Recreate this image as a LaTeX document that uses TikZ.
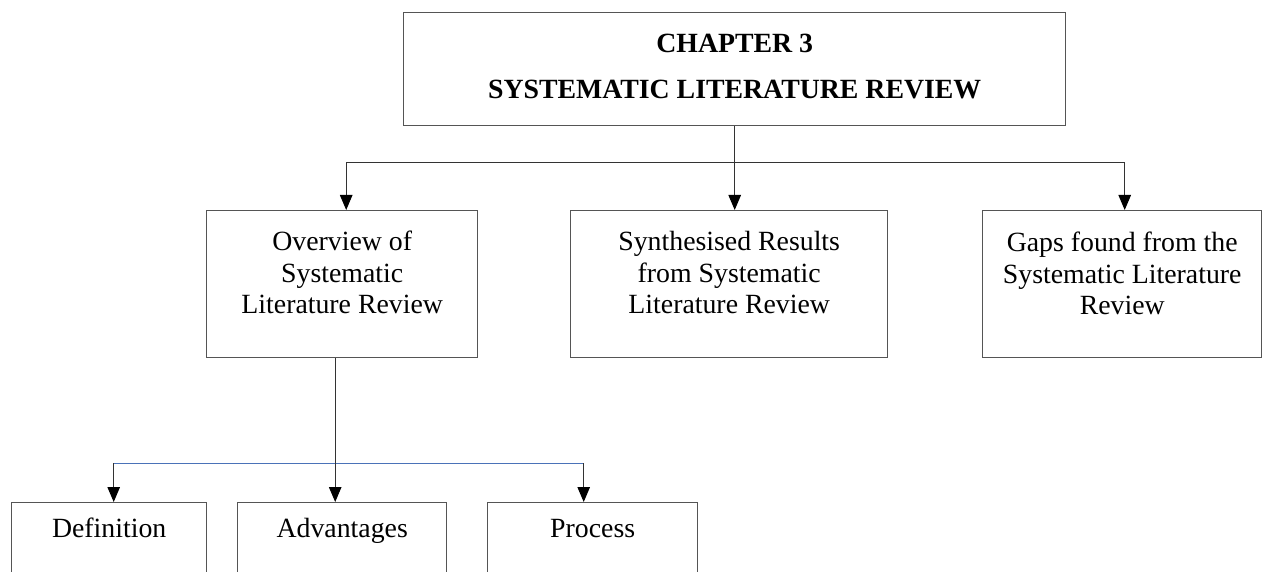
\documentclass[tikz,border=0pt]{standalone}
\usepackage{fontspec}
\setmainfont{Liberation Serif}
\usetikzlibrary{arrows.meta}
\definecolor{boxgray}{HTML}{555555}
\definecolor{linkblue}{HTML}{4A72B8}
\begin{document}
\begin{tikzpicture}[x=1pt,y=-1pt,
  box/.style={draw=boxgray, line width=1.4pt, inner sep=0pt, anchor=north west},
  lbl/.style={inner sep=0pt, anchor=south, text depth=0pt, align=center,
              font=\fontsize{27.8}{31.5}\selectfont},
  head/.style={inner sep=0pt, anchor=south, text depth=0pt, align=center,
              font=\fontsize{27.8}{46}\selectfont\bfseries},
  link/.style={draw=black!80, line width=1pt},
  arr/.style={link, -{Triangle[width=12.5pt,length=15pt,color=black]}}]

\useasboundingbox (0,0) rectangle (1263,572);
\clip (0,0) rectangle (1263,572);

% chapter box
\node[box, minimum width=662pt, minimum height=113pt] (top) at (403,12) {};
\node[head] (topt) at (top.center |- 0,99) {CHAPTER 3\\SYSTEMATIC LITERATURE REVIEW};

% second level
\node[box, minimum width=271pt, minimum height=147pt] (ov) at (206,210) {};
\node[box, minimum width=317pt, minimum height=147pt] (syn) at (570,210) {};
\node[box, minimum width=279pt, minimum height=147pt] (gap) at (982,210) {};
\node[lbl] (ovt) at (ov.center |- 0,314) {Overview of\\Systematic\\Literature Review};
\node[lbl] (synt) at (syn.center |- 0,314) {Synthesised Results\\from Systematic\\Literature Review};
\node[lbl] (gapt) at (gap.center |- 0,315) {Gaps found from the\\Systematic Literature\\Review};

% third level (boxes run past the lower edge)
\node[box, minimum width=195pt, minimum height=110pt] (def) at (11,502) {};
\node[box, minimum width=209pt, minimum height=110pt] (adv) at (237,502) {};
\node[box, minimum width=210pt, minimum height=110pt] (proc) at (487,502) {};
\node[lbl] (deft) at (def.center |- 0,538) {Definition};
\node[lbl] (advt) at (adv.center |- 0,538) {Advantages};
\node[lbl] (proct) at (proc.center |- 0,538) {Process};

% connectors from the chapter box
\coordinate (j1) at (top.south |- 0,163);
\draw[link] (top.south) -- (j1);
\draw[link] ([xshift=4pt]ov.north |- j1) -- ([xshift=2.5pt]gap.north |- j1);
\draw[arr] ([xshift=4pt]ov.north |- j1) -- ([xshift=4pt]ov.north);
\draw[arr] (j1) -- (top.south |- syn.north);
\draw[arr] ([xshift=2.5pt]gap.north |- j1) -- ([xshift=2.5pt]gap.north);

% connectors from the overview box
\coordinate (j2) at ([xshift=-7pt]ov.south |- 0,463);
\draw[link] ([xshift=-7pt]ov.south) -- (j2);
\draw[draw=linkblue, line width=1pt] ([xshift=4.5pt]def.north |- j2) -- ([xshift=-9pt]proc.north |- j2);
\draw[arr] ([xshift=4.5pt]def.north |- j2) -- ([xshift=4.5pt]def.north);
\draw[arr] (j2) -- (j2 |- adv.north);
\draw[arr] ([xshift=-9pt]proc.north |- j2) -- ([xshift=-9pt]proc.north);
\end{tikzpicture}
\end{document}
